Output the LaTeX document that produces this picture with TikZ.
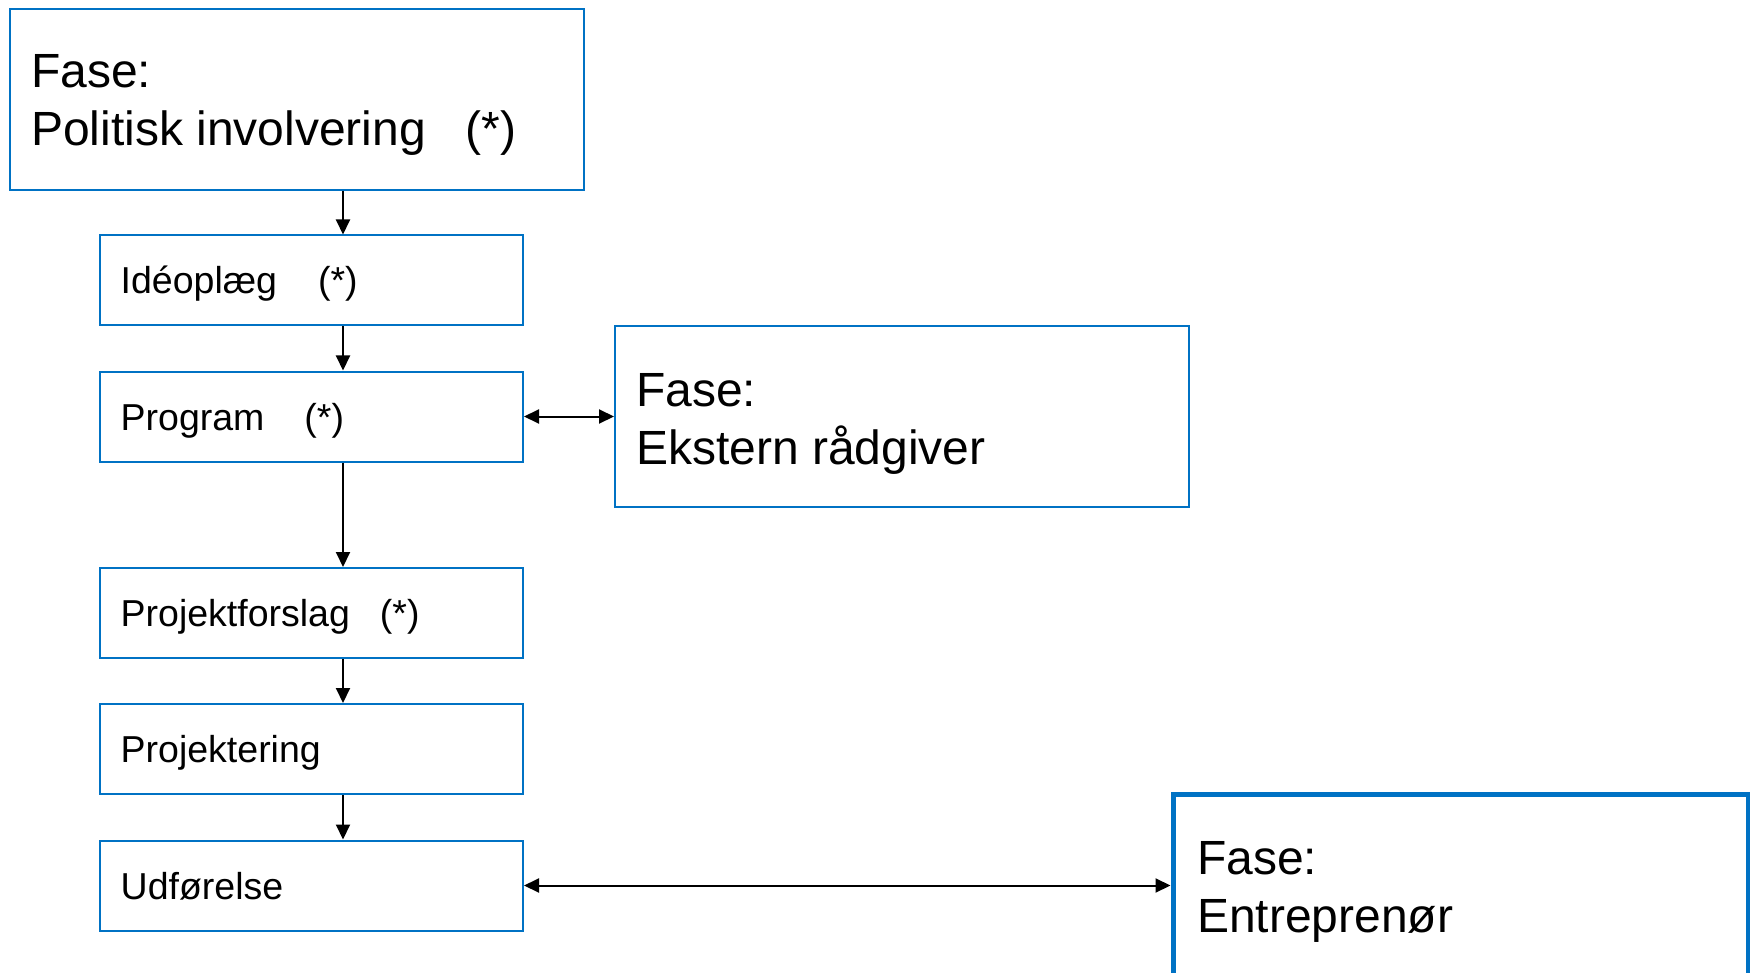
\documentclass[tikz,border=0pt]{standalone}
\usepackage{fontspec}
\setmainfont{Liberation Sans}
\usetikzlibrary{arrows.meta}
\definecolor{boxblue}{RGB}{0,114,196}
\tikzset{
  smallbox/.style={draw=boxblue, line width=2pt, minimum width=423pt, minimum height=90pt, inner sep=0pt, fill=white},
  bigbox/.style={draw=boxblue, line width=2pt, minimum width=574pt, minimum height=181pt, inner sep=0pt, fill=white},
  smalltxt/.style={anchor=base west, inner sep=0pt, font=\fontsize{37.5pt}{45pt}\selectfont},
  bigtxt/.style={anchor=base west, inner sep=0pt, font=\fontsize{48pt}{58pt}\selectfont},
  conn/.style={line width=2pt, -{Triangle[length=15pt,width=14pt]}},
  conn2/.style={line width=2pt, {Triangle[length=15pt,width=14pt]}-{Triangle[length=15pt,width=14pt]}}
}
\begin{document}
\begin{tikzpicture}[x=1pt,y=-1pt]
\clip (0,0) rectangle (1750,973);
\fill[white] (0,0) rectangle (1750,973);
% boxes
\node[bigbox] (pol) at (297,99.5) {};
\node[smallbox] (ide) at (311.5,280.5) {};
\node[smallbox] (prog) at (311.5,416.5) {};
\node[smallbox] (pfs) at (311.5,613) {};
\node[smallbox] (proj) at (311.5,749) {};
\node[smallbox] (udf) at (311.5,885.5) {};
\node[bigbox] (ext) at (902,416.5) {};
\node[bigbox, line width=5pt, minimum width=575.5pt] (ent) at (1460.75,885) {};
% texts
\node[bigtxt] (polA) at (31,88) {Fase:};
\node[bigtxt] (polB) at (31,146) {Politisk involvering\hspace{40pt}(*)};
\node[smalltxt] (ideT) at (120.5,294) {Idéoplæg\hspace{41pt}(*)};
\node[smalltxt] (progT) at (120.5,430) {Program\hspace{40pt}(*)};
\node[smalltxt] (pfsT) at (120.5,626.5) {Projektforslag\hspace{30pt}(*)};
\node[smalltxt] (projT) at (120.5,762.5) {Projektering};
\node[smalltxt] (udfT) at (120.5,899) {Udførelse};
\node[bigtxt] (extA) at (636,406.5) {Fase:};
\node[bigtxt] (extB) at (636,464.5) {Ekstern rådgiver};
\node[bigtxt] (entA) at (1197,874) {Fase:};
\node[bigtxt] (entB) at (1197,932) {Entreprenør};
% connectors
\coordinate (ax) at (343,0);
\draw[conn] (pol.south -| ax) -- (ide.north -| ax);
\draw[conn] (ide.south -| ax) -- (prog.north -| ax);
\draw[conn] (prog.south -| ax) -- (pfs.north -| ax);
\draw[conn] (pfs.south -| ax) -- (proj.north -| ax);
\draw[conn] (proj.south -| ax) -- (udf.north -| ax);
\draw[conn2] (prog.east) -- (ext.west);
\draw[conn2] (udf.east) -- (ent.west |- udf.east);
\end{tikzpicture}
\end{document}
